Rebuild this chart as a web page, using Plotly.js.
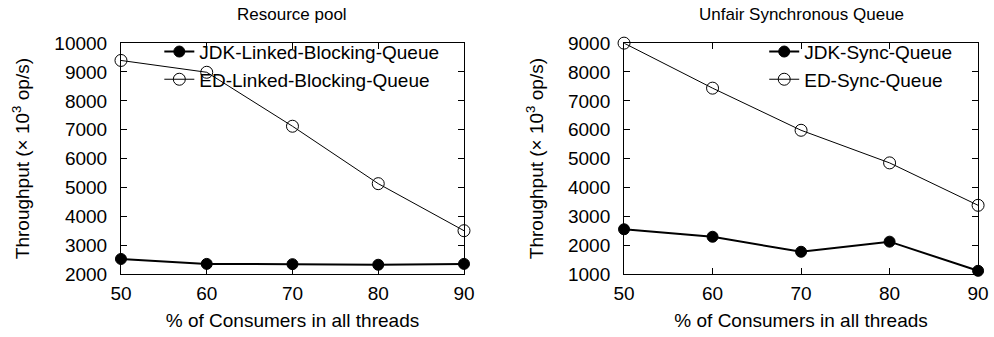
<!DOCTYPE html>
<html>
<head>
<meta charset="utf-8">
<script src="https://cdn.plot.ly/plotly-3.0.1.min.js"></script>
<style>html,body{margin:0;padding:0;background:#fff}#chart{width:994px;height:337px}</style>
</head>
<body>
<div id="chart"></div>
<script>
var xValues = [50, 60, 70, 80, 90];
var xTicks = [50, 60, 70, 80, 90];

var poolTitle = "Resource pool";
var poolJdkName = "JDK-Linked-Blocking-Queue";
var poolEdName = "ED-Linked-Blocking-Queue";
var poolJdk = [2520, 2350, 2340, 2320, 2350];
var poolEd = [9400, 8990, 7120, 5130, 3500];
var poolYTicks = [2000, 3000, 4000, 5000, 6000, 7000, 8000, 9000, 10000];

var syncTitle = "Unfair Synchronous Queue";
var syncJdkName = "JDK-Sync-Queue";
var syncEdName = "ED-Sync-Queue";
var syncJdk = [2550, 2290, 1770, 2120, 1110];
var syncEd = [9000, 7440, 5980, 4850, 3380];
var syncYTicks = [1000, 2000, 3000, 4000, 5000, 6000, 7000, 8000, 9000];

var xTitle = "% of Consumers in all threads";
var yTitle = "Throughput (× 10<sup>3</sup> op/s)";

var FONT = "Liberation Sans, Arial, sans-serif";
var FS = 19;

function jdkTrace(y, name, xa, ya, leg) {
  return {x: xValues, y: y, name: name, xaxis: xa, yaxis: ya, legend: leg,
    type: "scatter", mode: "lines+markers", cliponaxis: false,
    line: {color: "#000", width: 2},
    marker: {symbol: "circle", size: 11, color: "#000", line: {color: "#000", width: 1}}};
}
function edTrace(y, name, xa, ya, leg) {
  return {x: xValues, y: y, name: name, xaxis: xa, yaxis: ya, legend: leg,
    type: "scatter", mode: "lines+markers", cliponaxis: false,
    line: {color: "#000", width: 1},
    marker: {symbol: "circle-open", size: 12, color: "#000", line: {color: "#000", width: 1}}};
}

var data = [
  jdkTrace(poolJdk, poolJdkName, "x", "y", "legend"),
  edTrace(poolEd, poolEdName, "x", "y", "legend"),
  jdkTrace(syncJdk, syncJdkName, "x2", "y2", "legend2"),
  edTrace(syncEd, syncEdName, "x2", "y2", "legend2")
];

function xAxis(domain, anchor) {
  return {domain: domain, anchor: anchor, range: [50, 90], tickvals: xTicks,
    ticks: "inside", ticklen: 6, tickcolor: "#000", mirror: "ticks",
    showline: true, linecolor: "#000", linewidth: 1, showgrid: false, zeroline: false,
    tickfont: {family: FONT, size: FS, color: "#000"}, ticklabelstandoff: 2,
    title: {text: xTitle, font: {family: FONT, size: FS, color: "#000"}, standoff: 10}};
}
function yAxis(domain, anchor, range, ticks) {
  return {domain: domain, anchor: anchor, range: range, tickvals: ticks, tickformat: "d",
    ticks: "inside", ticklen: 6, tickcolor: "#000", mirror: "ticks",
    showline: true, linecolor: "#000", linewidth: 1, showgrid: false, zeroline: false,
    tickfont: {family: FONT, size: FS, color: "#000"}, ticklabelstandoff: 9,
    title: {text: yTitle, font: {family: FONT, size: FS, color: "#000"}, standoff: 19}};
}

var yDom = [0.187, 0.872];
var layout = {
  width: 994, height: 337,
  margin: {l: 0, r: 0, t: 0, b: 0},
  paper_bgcolor: "#fff", plot_bgcolor: "#fff",
  showlegend: true,
  font: {family: FONT, color: "#000"},
  xaxis: xAxis([0.1217, 0.4668], "y"),
  yaxis: yAxis(yDom, "x", [2000, 10000], poolYTicks),
  xaxis2: xAxis([0.6278, 0.984], "y2"),
  yaxis2: yAxis(yDom, "x2", [1000, 9000], syncYTicks),
  legend: {x: 0.447, y: 0.903, xanchor: "right", yanchor: "top", bgcolor: "rgba(0,0,0,0)",
    font: {family: FONT, size: FS, color: "#000"}, tracegroupgap: 0, itemwidth: 30},
  legend2: {x: 0.963, y: 0.903, xanchor: "right", yanchor: "top", bgcolor: "rgba(0,0,0,0)",
    font: {family: FONT, size: FS, color: "#000"}, tracegroupgap: 0, itemwidth: 30},
  annotations: [
    {text: poolTitle, xref: "paper", yref: "paper", x: 0.294, y: 1 - 15/337, xanchor: "center", yanchor: "middle",
      showarrow: false, font: {family: FONT, size: 17, color: "#000"}},
    {text: syncTitle, xref: "paper", yref: "paper", x: 0.806, y: 1 - 15/337, xanchor: "center", yanchor: "middle",
      showarrow: false, font: {family: FONT, size: 17, color: "#000"}}
  ]
};

Plotly.newPlot("chart", data, layout, {staticPlot: true, displayModeBar: false});
</script>
</body>
</html>
